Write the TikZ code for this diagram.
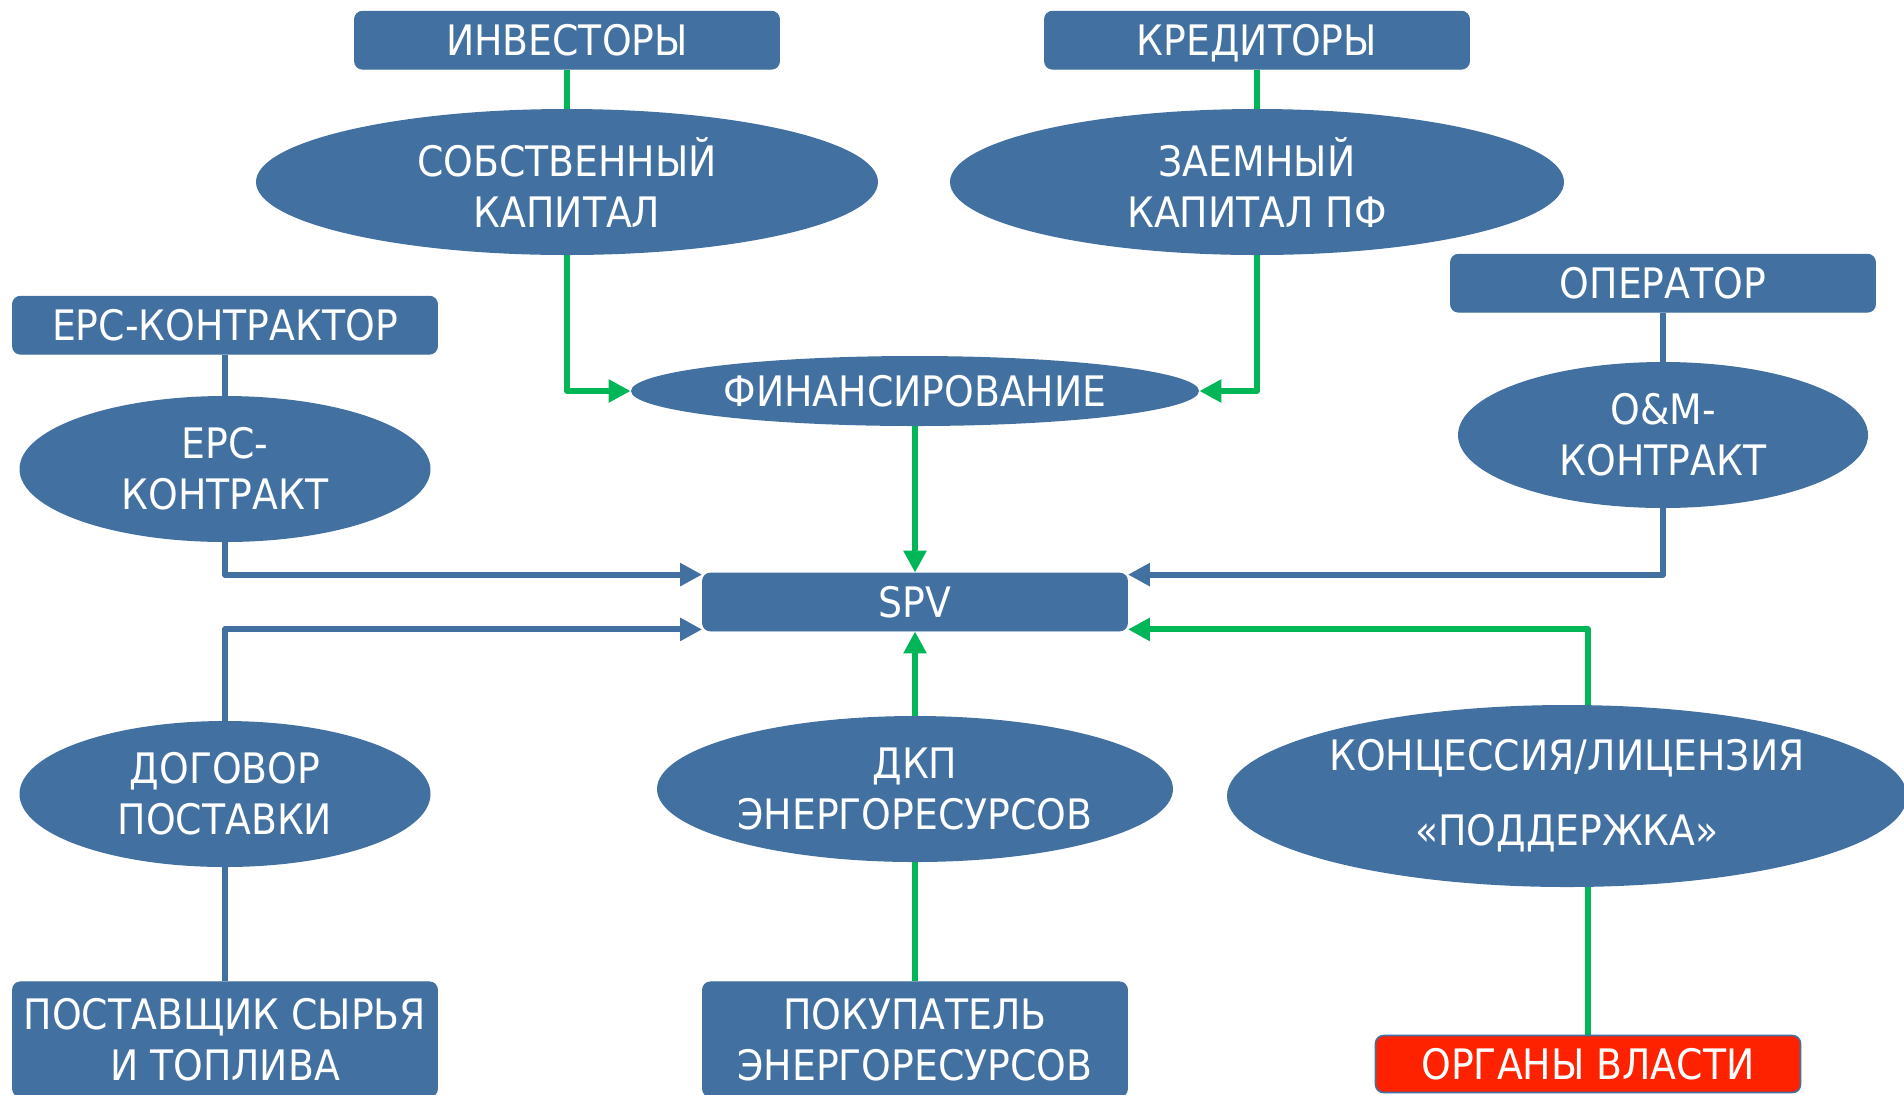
\documentclass[tikz,border=0pt]{standalone}
\usepackage{fontspec}
\setmainfont{DejaVuSansCondensed.ttf}
\usepackage{tikz}
\usetikzlibrary{shapes.geometric, arrows.meta, positioning, backgrounds}
\definecolor{nodeblue}{RGB}{66, 112, 160}
\definecolor{flowgreen}{RGB}{0, 182, 86}
\definecolor{alertred}{RGB}{255, 34, 0}

\begin{document}
\begin{tikzpicture}[
    x=0.5pt, y=-0.5pt,
    every node/.style={font=\fontsize{21}{25.5}\selectfont, text=white},
    box/.style={rectangle, draw=nodeblue, fill=nodeblue, rounded corners=4pt, align=center, inner sep=0pt, text depth=0pt, minimum width=212.5pt, minimum height=29pt},
    tallbox/.style={box, minimum height=57.5pt},
    redbox/.style={box, draw=nodeblue, fill=alertred, line width=0.8pt, minimum height=28.5pt},
    oval/.style={ellipse, fill=nodeblue, align=center, inner xsep=-10pt, inner ysep=0pt, minimum height=73pt},
    blueline/.style={draw=nodeblue, line width=3pt},
    greenline/.style={draw=flowgreen, line width=3pt},
    bluearrow/.style={blueline, -{Triangle[length=11pt, width=11pt]}, line join=round},
    greenarrow/.style={greenline, -{Triangle[length=11pt, width=11pt]}, line join=round}
]
    \useasboundingbox (0,0) rectangle (1904,1094);

    % Ovals
    \node[oval, minimum width=311pt] (equity) at (567,182) {СОБСТВЕННЫЙ\\КАПИТАЛ};
    \node[oval, minimum width=307pt] (debt) at (1257,182) {ЗАЕМНЫЙ\\КАПИТАЛ ПФ};
    \node[oval, minimum width=284pt, minimum height=35pt] (fin) at (915,391) {ФИНАНСИРОВАНИЕ};
    \node[oval, minimum width=205.5pt] (epc) at (225,469) {ЕРС-\\КОНТРАКТ};
    \node[oval, minimum width=205pt] (om) at (1663,435) {O\&M-\\КОНТРАКТ};
    \node[oval, minimum width=205.5pt] (supply) at (225,794) {ДОГОВОР\\ПОСТАВКИ};
    \node[oval, minimum width=258pt] (ppa) at (915,789) {ДКП\\ЭНЕРГОРЕСУРСОВ};
    \node[oval, minimum width=340pt, minimum height=91pt, inner xsep=-16pt] (conc) at (1567,796) {КОНЦЕССИЯ/ЛИЦЕНЗИЯ\\[12pt]«ПОДДЕРЖКА»};

    % Boxes
    \node[box] (spv) at (915,602) {SPV};
    \node[box, above=19.5pt of equity] (inv) {ИНВЕСТОРЫ};
    \node[box, above=19.5pt of debt] (cred) {КРЕДИТОРЫ};
    \node[box, above=20.5pt of epc] (epcc) {ЕРС-КОНТРАКТОР};
    \node[box, above=24.5pt of om] (oper) {ОПЕРАТОР};
    \node[tallbox, below=57pt of supply] (supplier) {ПОСТАВЩИК СЫРЬЯ\\И ТОПЛИВА};
    \node[tallbox, below=59.5pt of ppa] (buyer) {ПОКУПАТЕЛЬ\\ЭНЕРГОРЕСУРСОВ};
    \node[redbox] (gov) at (1588,1064) {ОРГАНЫ ВЛАСТИ};

    \coordinate (spv-tl) at ([yshift=-1pt]spv.north west);
    \coordinate (spv-bl) at ([yshift=1pt]spv.south west);
    \coordinate (spv-tr) at ([yshift=-1pt]spv.north east);
    \coordinate (spv-br) at ([yshift=1pt]spv.south east);

    % Arrows
    \begin{scope}[on background layer]
        \draw[greenline] (inv) -- (equity);
        \draw[greenline] (cred) -- (debt);
        \draw[greenarrow] (equity.south) |- (fin.west);
        \draw[greenarrow] (debt.south) |- (fin.east);
        \draw[greenarrow] (fin) -- (spv);
        \draw[blueline] (epcc) -- (epc);
        \draw[bluearrow] (epc.south) |- (spv-tl);
        \draw[blueline] (oper) -- (om);
        \draw[bluearrow] (om.south) |- (spv-tr);
        \draw[blueline] (supply) -- (supplier);
        \draw[bluearrow] (supply.north) |- (spv-bl);
        \draw[greenline] (ppa) -- (buyer);
        \draw[greenarrow] (ppa) -- (spv);
        \draw[greenarrow] (gov.north) |- (spv-br);
    \end{scope}

\end{tikzpicture}
\end{document}
